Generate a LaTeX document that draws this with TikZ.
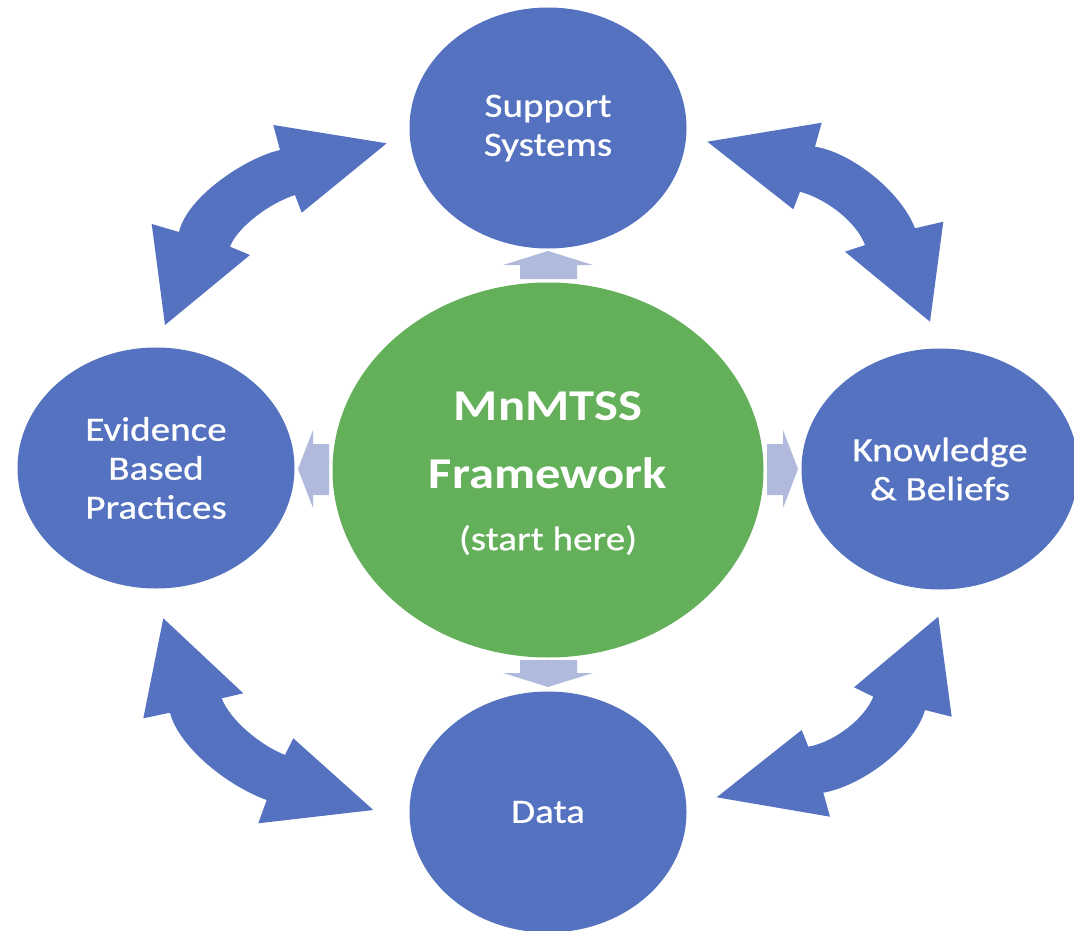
\documentclass[tikz,border=0pt]{standalone}
\usepackage{fontspec}
\newfontfamily\cfont[FakeStretch=1.15]{Carlito}
\newfontfamily\cfontm[FakeStretch=1.15,FakeBold=0.7]{Carlito}
\usetikzlibrary{shapes.geometric}
\definecolor{cblue}{RGB}{84,114,192}
\definecolor{cgreen}{RGB}{100,175,90}
\definecolor{clight}{RGB}{176,186,220}
\begin{document}
\begin{tikzpicture}[x=1pt,y=-1pt,
  circ/.style={ellipse, fill=cblue, inner sep=0pt, text=white, align=center,
    minimum width=277pt, minimum height=241pt, font=\cfontm\fontsize{34}{39}\selectfont},
  centre/.style={ellipse, fill=cgreen, inner sep=0pt, text=white, align=center,
    minimum width=431pt, minimum height=375pt, font=\cfont\bfseries\fontsize{44}{68}\selectfont},
  bigarrow/.style={fill=cblue},
  smallarrow/.style={fill=clight}]
\useasboundingbox (0,0) rectangle (1074,931);
\clip (0,0) rectangle (1074,931);

% nodes
\node[centre] (mn) at (548,470) {\rule{0pt}{35pt}MnMTSS\\Framework\\[-6pt]{\cfontm\mdseries\fontsize{34}{34}\selectfont (start here)}};
\node[circ] (sup) at (548,128) {Support\\Systems};
\node[circ] (ebp) at (156,468) {Evidence\\Based\\Practices};
\node[circ] (kb)  at (940,469) {Knowledge\\\& Beliefs};
\node[circ] (dat) at (548,812) {Data};

% small arrows from the framework
\fill[smallarrow] (520,279) -- (520,265) -- (503,265) -- (548,251) -- (593,265) -- (577,265) -- (577,279) -- cycle;
\fill[smallarrow] (520,660) -- (577,660) -- (577,673) -- (593,673) -- (548,687) -- (503,673) -- (520,673) -- cycle;
\fill[smallarrow] (329,444) -- (313,444) -- (313,430) -- (298,469) -- (313,508) -- (313,495) -- (329,495) -- cycle;
\fill[smallarrow] (767,444) -- (783,444) -- (783,430) -- (798,469) -- (783,508) -- (783,495) -- (767,495) -- cycle;

% top-left double arrow
\fill[bigarrow] (386.7,143.3) -- (273.3,125) -- (280,150)
  .. controls (245,158) and (187,197) .. (179,232)
  -- (151.7,224) -- (165,325) -- (250,255) -- (230,246.7)
  .. controls (236,230) and (265,205) .. (295,195)
  -- (301.7,212.7) -- cycle;

% top-right double arrow
\fill[bigarrow] (707.3,141.7) -- (821.7,122.7) -- (815,146.7)
  .. controls (850,152) and (900,190) .. (915,228.3)
  -- (943.3,221.7) -- (930,321.7) -- (845,251.7) -- (865,245)
  .. controls (858,225) and (830,200) .. (800,191.7)
  -- (793.3,209.3) -- cycle;

% bottom-left double arrow
\fill[bigarrow] (163.3,618.3) -- (143.3,718.3) -- (170,712.7)
  .. controls (178,745) and (225,785) .. (266.7,800)
  -- (258.3,823.3) -- (373.3,810) -- (293.3,738.3) -- (285,755)
  .. controls (260,745) and (230,720) .. (221.7,698.3)
  -- (243.3,693.3) -- cycle;

% bottom-right double arrow
\fill[bigarrow] (938.3,616.7) -- (951.7,716.7) -- (925,710)
  .. controls (915,745) and (865,785) .. (823.3,792.7)
  -- (830,816.7) -- (716.7,797.3) -- (801.7,730) -- (808.3,746.7)
  .. controls (835,742) and (865,718) .. (873.3,696.7)
  -- (854,687.3) -- cycle;
\end{tikzpicture}
\end{document}
